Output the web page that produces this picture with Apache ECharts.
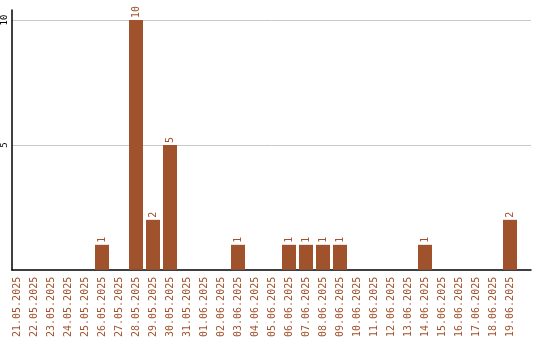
<!DOCTYPE html>
<html><head><meta charset="utf-8">
<script src="https://cdn.jsdelivr.net/npm/echarts@6/dist/echarts.min.js"></script>
<style>html,body{margin:0;padding:0;background:#fff}#c{width:540px;height:340px}</style>
</head><body><div id="c"></div>
<script>
const categories = ["21.05.2025","22.05.2025","23.05.2025","24.05.2025","25.05.2025","26.05.2025","27.05.2025","28.05.2025","29.05.2025","30.05.2025","31.05.2025","01.06.2025","02.06.2025","03.06.2025","04.06.2025","05.06.2025","06.06.2025","07.06.2025","08.06.2025","09.06.2025","10.06.2025","11.06.2025","12.06.2025","13.06.2025","14.06.2025","15.06.2025","16.06.2025","17.06.2025","18.06.2025","19.06.2025"];
const values = [0,0,0,0,0,1,0,10,2,5,0,0,0,1,0,0,1,1,1,1,0,0,0,0,1,0,0,0,0,2];
const yTicks = [5,10];

const brown = '#a0522d';
const font = 'DejaVu Sans Mono';
const chart = echarts.init(document.getElementById('c'), null, {renderer:'canvas'});
chart.setOption({
  animation:false,
  grid:[
    {left:10, right:9, top:10, bottom:70, containLabel:false},
    {left:8.5, width:510, top:10, bottom:70, containLabel:false}
  ],
  xAxis:[
    {gridIndex:0, type:'value', min:0, max:1,
      axisLine:{show:true, onZero:false, lineStyle:{color:'#000', width:1.5}},
      axisTick:{show:false}, axisLabel:{show:false}, splitLine:{show:false}},
    {gridIndex:1, type:'category', data:categories,
      axisLine:{show:false}, axisTick:{show:false},
      axisLabel:{rotate:90, color:brown, fontFamily:font, fontSize:10, margin:7, interval:0}}
  ],
  yAxis:[
    {gridIndex:0, type:'value', min:0, max:10.4, interval:5,
      axisLine:{show:true, onZero:false, lineStyle:{color:'#000', width:1.5}},
      axisTick:{show:false},
      splitLine:{showMinLine:false, showMaxLine:false, lineStyle:{color:'#c8c8c8'}},
      axisLabel:{rotate:90, color:'#000', fontFamily:font, fontSize:9, margin:3,
        showMinLabel:false, showMaxLabel:false,
        formatter:v=> yTicks.includes(v)? String(v):''}},
    {gridIndex:1, type:'value', min:0, max:10.4, interval:5, show:false}
  ],
  series:[{type:'bar', xAxisIndex:1, yAxisIndex:1, data:values, barWidth:14, itemStyle:{color:brown},
    label:{show:true, position:'top', rotate:90, align:'left', verticalAlign:'middle', distance:2,
      color:brown, fontFamily:font, fontSize:10,
      formatter:p=> p.value? String(p.value):''}
  }]
});
</script></body></html>
